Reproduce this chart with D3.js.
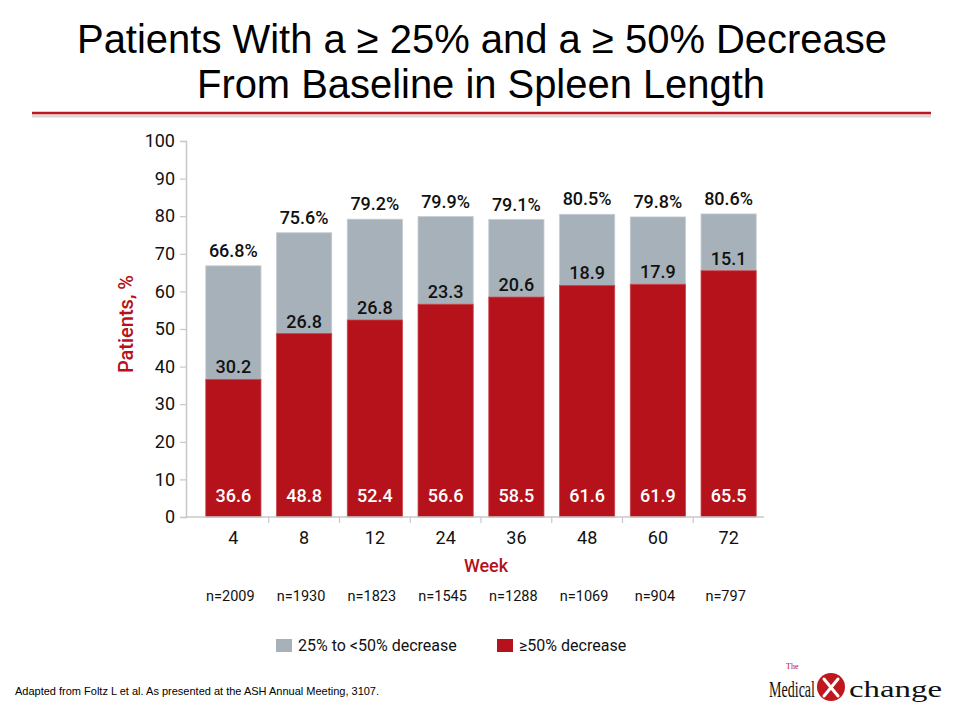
<!DOCTYPE html>
<html>
<head>
<meta charset="utf-8">
<script src="https://cdn.jsdelivr.net/npm/d3@7"></script>
<style>
  body { margin: 0; background: #fff; }
  svg { display: block; }
</style>
</head>
<body>
<svg id="chart" width="960" height="720"></svg>
<script>
// data
var weeks = ['4', '8', '12', '24', '36', '48', '60', '72']
var counts = ['n=2009', 'n=1930', 'n=1823', 'n=1545', 'n=1288', 'n=1069', 'n=904', 'n=797']
var over50 = [36.6, 48.8, 52.4, 56.6, 58.5, 61.6, 61.9, 65.5]
var from25to50 = [30.2, 26.8, 26.8, 23.3, 20.6, 18.9, 17.9, 15.1]
var totals = ['66.8%', '75.6%', '79.2%', '79.9%', '79.1%', '80.5%', '79.8%', '80.6%']
var yTicks = [0, 10, 20, 30, 40, 50, 60, 70, 80, 90, 100]
var legendLabels = ['25% to <50% decrease', '\u226550% decrease']

var RED = '#b5121b'
var GREY = '#a7b1b9'
var labelFont = 'Roboto, "DejaVu Sans", sans-serif'

var svg = d3.select('#chart')

// title (narrow face is not installed, so squeeze the regular one)
var title = svg.append('g')
    .attr('font-family', '"Liberation Sans Narrow", "Arial Narrow", "Liberation Sans", sans-serif')
    .attr('font-size', 40)
    .attr('text-anchor', 'middle')
    .attr('fill', '#000')
title.append('text').attr('x', 482).attr('y', 53)
    .attr('textLength', 810).attr('lengthAdjust', 'spacingAndGlyphs')
    .text('Patients With a \u2265 25% and a \u2265 50% Decrease')
title.append('text').attr('x', 481).attr('y', 98)
    .attr('textLength', 568).attr('lengthAdjust', 'spacingAndGlyphs')
    .text('From Baseline in Spleen Length')

svg.append('line')
    .attr('x1', 32).attr('x2', 931).attr('y1', 116).attr('y2', 116)
    .attr('stroke', '#d9d9d9').attr('stroke-width', 3)
svg.append('line')
    .attr('x1', 32).attr('x2', 931).attr('y1', 113).attr('y2', 113)
    .attr('stroke', '#c0161e').attr('stroke-width', 2.5)

// scales
var x = d3.scaleBand().domain(weeks).range([198, 764]).paddingInner(0.22).paddingOuter(0.11)
var y = d3.scaleLinear().domain([0, 100]).range([517, 141])

var plot = svg.append('g')

// grey segment (25% to <50%)
plot.selectAll('.grey')
    .data(weeks)
    .enter()
    .append('rect')
    .attr('class', 'grey')
    .attr('x', function (d) { return x(d) })
    .attr('width', x.bandwidth())
    .attr('y', function (d, i) { return y(over50[i] + from25to50[i]) })
    .attr('height', function (d, i) { return y(over50[i]) - y(over50[i] + from25to50[i]) })
    .attr('fill', GREY)
    .attr('stroke', '#c4cbd1').attr('stroke-width', 0.8)

// red segment (>=50%)
plot.selectAll('.red')
    .data(weeks)
    .enter()
    .append('rect')
    .attr('class', 'red')
    .attr('x', function (d) { return x(d) })
    .attr('width', x.bandwidth())
    .attr('y', function (d, i) { return y(over50[i]) })
    .attr('height', function (d, i) { return y(0) - y(over50[i]) })
    .attr('fill', RED)
    .attr('stroke', '#c8454c').attr('stroke-width', 0.8)

// value labels
var labels = plot.append('g')
    .attr('font-family', labelFont)
    .attr('font-weight', 500)
    .attr('font-size', 18)
    .attr('text-anchor', 'middle')

labels.selectAll('.lred')
    .data(over50)
    .enter()
    .append('text')
    .attr('x', function (d, i) { return x(weeks[i]) + x.bandwidth() / 2 })
    .attr('y', y(0) - 15)
    .attr('fill', '#fff')
    .text(function (d) { return d.toFixed(1) })

labels.selectAll('.lgrey')
    .data(from25to50)
    .enter()
    .append('text')
    .attr('x', function (d, i) { return x(weeks[i]) + x.bandwidth() / 2 })
    .attr('y', function (d, i) { return y(over50[i]) - 6 })
    .attr('fill', '#111')
    .text(function (d) { return d.toFixed(1) })

labels.selectAll('.ltot')
    .data(totals)
    .enter()
    .append('text')
    .attr('x', function (d, i) { return x(weeks[i]) + x.bandwidth() / 2 })
    .attr('y', function (d, i) { return y(over50[i] + from25to50[i]) - 9 })
    .attr('fill', '#111')
    .text(function (d) { return d })

// axes
var yAxis = svg.append('g')
    .attr('transform', 'translate(186,0)')
    .call(d3.axisLeft(y).tickValues(yTicks).tickSize(6).tickPadding(5))
yAxis.select('.domain').attr('stroke', '#c8c8c8').attr('stroke-width', 1.5)
yAxis.selectAll('.tick line').attr('stroke', '#c8c8c8').attr('stroke-width', 1.2)
yAxis.selectAll('.tick text')
    .attr('font-family', labelFont).attr('font-size', 18).attr('fill', '#111')

var xAxis = svg.append('g')
    .attr('transform', 'translate(0,' + y(0) + ')')
    .call(d3.axisBottom(x).tickSize(0).tickPadding(14))
xAxis.select('.domain').remove()
xAxis.append('line')
    .attr('x1', 186).attr('x2', 764).attr('y1', 0).attr('y2', 0)
    .attr('stroke', '#c8c8c8').attr('stroke-width', 1.5)
xAxis.selectAll('.sep')
    .data(weeks.slice(1))
    .enter()
    .append('line')
    .attr('x1', function (d) { return x(d) - x.step() * x.paddingInner() / 2 })
    .attr('x2', function (d) { return x(d) - x.step() * x.paddingInner() / 2 })
    .attr('y1', 0).attr('y2', 6)
    .attr('stroke', '#c8c8c8').attr('stroke-width', 1.2)
xAxis.selectAll('.tick text')
    .attr('font-family', labelFont).attr('font-size', 18).attr('fill', '#111')

// axis titles
svg.append('text')
    .attr('transform', 'translate(133,324) rotate(-90)')
    .attr('text-anchor', 'middle')
    .attr('font-family', labelFont).attr('font-weight', 500).attr('font-size', 20)
    .attr('fill', RED)
    .text('Patients, %')
svg.append('text')
    .attr('x', 486).attr('y', 572)
    .attr('text-anchor', 'middle')
    .attr('font-family', labelFont).attr('font-weight', 500).attr('font-size', 18)
    .attr('fill', RED)
    .text('Week')

// n per week
svg.append('g').selectAll('text')
    .data(counts)
    .enter()
    .append('text')
    .attr('x', function (d, i) { return x(weeks[i]) + x.bandwidth() / 2 - 3 })
    .attr('y', 601)
    .attr('text-anchor', 'middle')
    .attr('font-family', labelFont).attr('font-size', 14.5).attr('fill', '#111')
    .text(function (d) { return d })

// legend
var legend = svg.append('g')
    .attr('font-family', labelFont).attr('font-size', 16).attr('fill', '#111')
var legendX = [276, 497]
var legendColors = [GREY, RED]
legendLabels.forEach(function (label, i) {
    legend.append('rect')
        .attr('x', legendX[i]).attr('y', 639).attr('width', 16).attr('height', 13)
        .attr('fill', legendColors[i])
    legend.append('text')
        .attr('x', legendX[i] + 22).attr('y', 651)
        .text(label)
})

// source note
svg.append('text')
    .attr('x', 15).attr('y', 695)
    .attr('font-family', '"Liberation Sans", Arial, sans-serif').attr('font-size', 11)
    .attr('fill', '#000')
    .text('Adapted from Foltz L et al. As presented at the ASH Annual Meeting, 3107.')

// logo
var logo = svg.append('g').attr('font-family', '"Liberation Serif", "DejaVu Serif", serif')
logo.append('text').attr('x', 786).attr('y', 669).attr('font-size', 8).attr('fill', RED).text('The')
logo.append('text').attr('x', 769).attr('y', 697).attr('font-size', 24).attr('fill', '#111')
    .attr('textLength', 46).attr('lengthAdjust', 'spacingAndGlyphs').text('Medical')
logo.append('circle').attr('cx', 831).attr('cy', 687).attr('r', 14).attr('fill', '#c0161e')
logo.append('path')
    .attr('d', 'M824,679 L838,696 M838,679 L824,696')
    .attr('stroke', '#fff').attr('stroke-width', 3).attr('stroke-linecap', 'round')
logo.append('text').attr('x', 849).attr('y', 697).attr('font-size', 24).attr('fill', '#111')
    .attr('textLength', 93).attr('lengthAdjust', 'spacingAndGlyphs').text('change')
</script>
</body>
</html>
